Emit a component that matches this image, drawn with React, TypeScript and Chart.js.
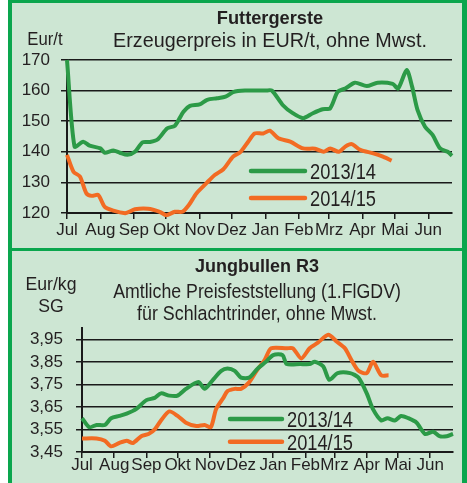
import React, { useEffect, useRef } from 'react';
import { Chart, registerables } from 'chart.js';

Chart.register(...registerables);

const FONT = "'Liberation Sans', Arial, sans-serif";
const TEXT = '#231f20';
const AXIS = '#1a1a1a';
const BG = '#cde6d3';
const FRAME = '#0aa64d';
const GREEN = '#2c9a47';
const ORANGE = '#f26b23';

// Shared time axis (days since 1 July), month ticks
const monthLabels = ['Jul', 'Aug', 'Sep', 'Okt', 'Nov', 'Dez', 'Jan', 'Feb', 'Mrz', 'Apr', 'Mai', 'Jun'];
const monthStartDays = [0, 31, 62, 92, 123, 153, 184, 215, 243, 274, 304, 335];
const axisEndDay = 357;
const seriesLabels = ['2013/14', '2014/15'];

// Futtergerste (EUR/t)
const gersteDays1314 = [0, 7, 15, 21, 31, 35, 43, 49, 56, 63, 70, 77, 84, 93, 100, 108, 114, 123, 130, 139, 147, 154, 165, 184, 190, 200, 209, 219, 228, 237, 244, 251, 258, 267, 278, 288, 302, 307, 315, 320, 325, 332, 339, 346, 353, 357];
const gersteValues1314 = [170, 141.7, 143.3, 142, 141.1, 139.7, 140.4, 139.7, 139, 140, 143.1, 143.2, 144, 147.7, 148.5, 153.1, 155, 155.5, 157, 157.5, 158, 159.5, 160, 160, 160, 155.3, 152.7, 151, 152.6, 153.9, 154.2, 159.6, 160.7, 162.6, 161.5, 162.6, 162.2, 160.7, 166.7, 161.3, 153.7, 148.2, 145.5, 141.1, 140, 138.7];
const gersteDays1415 = [0, 6, 12, 18, 23, 29, 35, 43, 54, 63, 75, 86, 92, 100, 107, 113, 120, 130, 137, 145, 154, 161, 168, 174, 182, 188, 196, 207, 219, 230, 238, 244, 252, 258, 264, 272, 284, 293, 301];
const gersteValues1415 = [139, 133.5, 131.9, 126.4, 125.6, 125.9, 122, 120.8, 119.9, 121.2, 121.4, 120.4, 119.3, 120.4, 120.4, 122.6, 126.4, 130, 132.4, 134.3, 138.4, 140, 143.3, 146, 146, 146.9, 144.4, 143.3, 141.1, 141, 140, 141.1, 140, 141.7, 142.5, 140.6, 139.5, 138.4, 137.1];
const gersteTicks = [120, 130, 140, 150, 160, 170];

// Jungbullen R3 (EUR/kg SG)
const bullenDays1314 = [0, 7, 14, 22, 28, 36, 43, 52, 62, 70, 76, 84, 92, 100, 112, 118, 126, 134, 140, 147, 153, 161, 169, 177, 184, 193, 197, 210, 219, 224, 232, 238, 246, 258, 266, 274, 280, 288, 294, 301, 307, 314, 322, 330, 338, 344, 351, 357];
const bullenValues1314 = [3.60, 3.56, 3.57, 3.57, 3.60, 3.61, 3.62, 3.64, 3.68, 3.69, 3.71, 3.70, 3.70, 3.73, 3.76, 3.73, 3.77, 3.81, 3.82, 3.81, 3.78, 3.78, 3.82, 3.85, 3.88, 3.88, 3.84, 3.84, 3.84, 3.85, 3.83, 3.77, 3.80, 3.80, 3.78, 3.71, 3.64, 3.59, 3.60, 3.59, 3.61, 3.60, 3.58, 3.53, 3.54, 3.52, 3.52, 3.53];
const bullenDays1415 = [0, 14, 22, 28, 36, 43, 49, 57, 64, 70, 76, 84, 92, 100, 110, 118, 124, 129, 136, 140, 147, 153, 161, 168, 176, 182, 197, 203, 211, 219, 227, 237, 245, 253, 259, 266, 274, 280, 288, 295];
const bullenValues1415 = [3.51, 3.51, 3.50, 3.475, 3.49, 3.50, 3.49, 3.52, 3.53, 3.55, 3.59, 3.63, 3.61, 3.58, 3.565, 3.57, 3.56, 3.64, 3.69, 3.72, 3.73, 3.73, 3.76, 3.81, 3.86, 3.91, 3.91, 3.91, 3.865, 3.91, 3.935, 3.97, 3.94, 3.91, 3.86, 3.81, 3.80, 3.85, 3.79, 3.79];
const bullenTicks = [3.45, 3.55, 3.65, 3.75, 3.85, 3.95];

const toPoints = (xs: number[], ys: number[]) => xs.map((x, i) => ({ x, y: ys[i] }));

const textPlugin = {
  id: 'panelText',
  afterDraw(chart: any, _args: any, opts: any) {
    const ctx = chart.ctx;
    for (const t of opts.items || []) {
      ctx.save();
      ctx.fillStyle = TEXT;
      ctx.textBaseline = 'alphabetic';
      ctx.font = `${t.bold ? 'bold ' : ''}${t.size}px ${FONT}`;
      ctx.textAlign = 'center';
      ctx.translate(t.x, t.y);
      ctx.scale(t.sx || 1, 1);
      ctx.fillText(t.text, 0, 0);
      ctx.restore();
    }
  },
};

const legendPlugin = {
  id: 'inlineLegend',
  afterDatasetsDraw(chart: any, _args: any, opts: any) {
    const ctx = chart.ctx;
    chart.data.datasets.forEach((ds: any, i: number) => {
      const y = opts.y + i * opts.dy;
      ctx.save();
      ctx.strokeStyle = ds.borderColor;
      ctx.lineWidth = 4.5;
      ctx.lineCap = 'round';
      ctx.beginPath();
      ctx.moveTo(opts.x, y);
      ctx.lineTo(opts.x + opts.len, y);
      ctx.stroke();
      ctx.fillStyle = TEXT;
      ctx.font = `${opts.size}px ${FONT}`;
      ctx.textAlign = 'left';
      ctx.textBaseline = 'middle';
      ctx.translate(opts.x + opts.len + opts.gap, y + 2);
      ctx.scale(opts.sx, 1);
      ctx.fillText(ds.label, 0, 0);
      ctx.restore();
    });
  },
};

function buildConfig(p: any): any {
  const tickFont = { family: FONT, size: 17 };
  return {
    type: 'line',
    data: {
      datasets: [
        { label: seriesLabels[0], data: p.data1314, borderColor: GREEN, borderWidth: 4, pointRadius: 0, tension: 0.25, clip: false },
        { label: seriesLabels[1], data: p.data1415, borderColor: ORANGE, borderWidth: 4, pointRadius: 0, tension: 0.25, clip: false },
      ],
    },
    options: {
      animation: false,
      responsive: false,
      layout: { padding: p.padding },
      plugins: {
        legend: { display: false },
        tooltip: { enabled: false },
        panelText: { items: p.texts },
        inlineLegend: p.legend,
      },
      scales: {
        x: {
          type: 'linear',
          min: 0,
          max: axisEndDay,
          afterBuildTicks: (s: any) => { s.ticks = monthStartDays.map((v) => ({ value: v })); },
          afterFit: (s: any) => { s.height = p.xHeight; },
          ticks: { callback: (_v: any, i: number) => monthLabels[i], font: tickFont, color: TEXT, padding: p.xPad, maxRotation: 0, autoSkip: false },
          grid: { drawOnChartArea: false, drawTicks: true, tickLength: 6, color: AXIS, lineWidth: 1.5 },
          border: { display: true, color: AXIS, width: 2 },
        },
        y: {
          type: 'linear',
          min: p.yMin,
          max: p.yMax,
          afterBuildTicks: (s: any) => { s.ticks = p.yTicks.map((v: number) => ({ value: v })); },
          afterFit: (s: any) => { s.width = p.yWidth; },
          ticks: { callback: p.yFormat, font: tickFont, color: TEXT, padding: p.yPad },
          grid: { color: AXIS, lineWidth: 1.5, drawTicks: true, tickLength: 6 },
          border: { display: true, color: AXIS, width: 2 },
        },
      },
    },
    plugins: [textPlugin, legendPlugin],
  };
}

function PanelChart({ width, height, params }: { width: number; height: number; params: any }) {
  const ref = useRef<HTMLCanvasElement | null>(null);
  useEffect(() => {
    const chart = new Chart(ref.current as HTMLCanvasElement, buildConfig(params));
    return () => chart.destroy();
  }, []);
  return <canvas ref={ref} width={width} height={height} style={{ display: 'block', width, height }} />;
}

const gersteParams = {
  data1314: toPoints(gersteDays1314, gersteValues1314),
  data1415: toPoints(gersteDays1415, gersteValues1415),
  yTicks: gersteTicks,
  yMin: 120,
  yMax: 170,
  yFormat: (v: number) => String(v),
  padding: { top: 57, right: 10, left: 0, bottom: 0 },
  yWidth: 55,
  xHeight: 35,
  yPad: 11,
  xPad: 1,
  texts: [
    { text: 'Futtergerste', x: 258, y: 21, size: 19, bold: true, sx: 0.96 },
    { text: 'Erzeugerpreis in EUR/t, ohne Mwst.', x: 258, y: 43.5, size: 21, sx: 0.94 },
    { text: 'Eur/t', x: 33, y: 42, size: 19, sx: 0.88 },
  ],
  legend: { x: 239, y: 168, dy: 27, len: 54, gap: 5, size: 22, sx: 0.83 },
};

const bullenParams = {
  data1314: toPoints(bullenDays1314, bullenValues1314),
  data1415: toPoints(bullenDays1415, bullenValues1415),
  yTicks: bullenTicks,
  yMin: 3.45,
  yMax: 4.0,
  yFormat: (v: number) => v.toFixed(2).replace('.', ','),
  padding: { top: 77, right: 9, left: 0, bottom: 0 },
  yWidth: 70,
  xHeight: 31,
  yPad: 13,
  xPad: -3,
  texts: [
    { text: 'Jungbullen R3', x: 245, y: 20.5, size: 18, bold: true, sx: 1 },
    { text: 'Amtliche Preisfeststellung (1.FlGDV)', x: 245, y: 47, size: 20.5, sx: 0.865 },
    { text: 'für Schlachtrinder, ohne Mwst.', x: 245, y: 69, size: 20.5, sx: 0.87 },
    { text: 'Eur/kg', x: 39, y: 39, size: 19, sx: 0.93 },
    { text: 'SG', x: 39, y: 60.5, size: 19, sx: 0.93 },
  ],
  legend: { x: 218, y: 168, dy: 22.7, len: 52, gap: 5, size: 22, sx: 0.83 },
};

export default function App() {
  return (
    <div style={{ position: 'fixed', left: 0, top: 0, width: 467, height: 483, background: '#ffffff', overflow: 'hidden' }}>
      <div style={{ position: 'absolute', left: 8, top: 0, width: 459, height: 500, background: FRAME }} />
      <div style={{ position: 'absolute', left: 12, top: 3, width: 450, height: 245, background: BG }}>
        <PanelChart width={450} height={245} params={gersteParams} />
      </div>
      <div style={{ position: 'absolute', left: 12, top: 251, width: 450, height: 240, background: BG }}>
        <PanelChart width={450} height={232} params={bullenParams} />
      </div>
    </div>
  );
}
